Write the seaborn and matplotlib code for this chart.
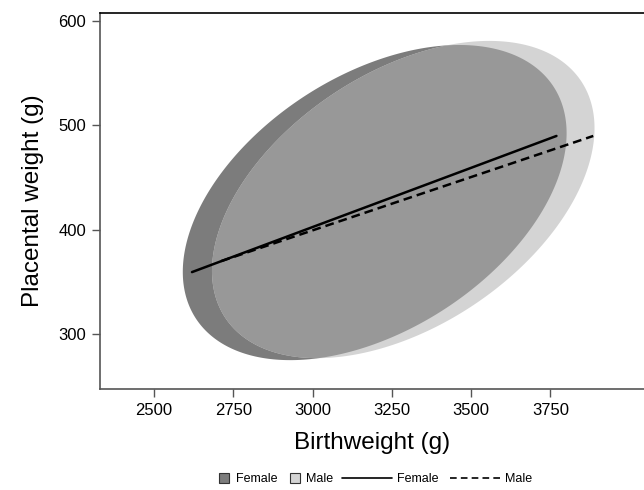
import numpy as np
import pandas as pd
import matplotlib
matplotlib.use("Agg")
import matplotlib.pyplot as plt
import seaborn as sns
from matplotlib.lines import Line2D

# data
sexes = ["Female", "Male"]
fill_colors = ["#7c7c7c", "#d4d4d4"]
overlap_color = "#989898"

# ellipse centre, half extents and correlation (birthweight g, placental weight g)
ell_cx = [3196, 3286]
ell_cy = [426.0, 428.9]
ell_hx = [605, 603]
ell_hy = [150.7, 151.7]
ell_rho = [0.44, 0.45]

# regression line end points
line_x0 = [2620, 2712]
line_y0 = [359.5, 370.0]
line_x1 = [3769, 3885]
line_y1 = [489.7, 489.7]

x_ticks = [2500, 2750, 3000, 3250, 3500, 3750]
y_ticks = [300, 400, 500, 600]

sns.set_theme(style="white")
plt.rcParams["font.family"] = ["Liberation Sans", "DejaVu Sans"]
plt.rcParams["text.color"] = "black"
plt.rcParams["axes.labelcolor"] = "black"
plt.rcParams["xtick.color"] = "black"
plt.rcParams["ytick.color"] = "black"

fig = plt.figure(figsize=(6.44, 4.9), dpi=100)
ax = fig.add_axes([100 / 644, 1 - 389 / 490, 1 - 100 / 644, (389 - 13.3) / 490])

# ellipses
t = np.linspace(0, 2 * np.pi, 400)
polys = []
for i, s in enumerate(sexes):
    ex = ell_cx[i] + ell_hx[i] * np.cos(t)
    ey = ell_cy[i] + ell_hy[i] * (ell_rho[i] * np.cos(t) + np.sqrt(1 - ell_rho[i] ** 2) * np.sin(t))
    polys.append((ex, ey))
    ax.fill(ex, ey, color=fill_colors[i], lw=0, zorder=1)

# overlap region drawn as female ellipse clipped by the male one
male_patch = ax.patches[1]
ov = ax.fill(polys[0][0], polys[0][1], color=overlap_color, lw=0, zorder=2)
ov[0].set_clip_path(male_patch)

# regression lines
lines = pd.DataFrame({
    "Birthweight": line_x0 + line_x1,
    "Placental": line_y0 + line_y1,
    "Sex": sexes + sexes,
})
sns.lineplot(data=lines, x="Birthweight", y="Placental", style="Sex",
             dashes={"Female": "", "Male": (3.5, 2)}, color="black",
             linewidth=1.8, legend=False, ax=ax, zorder=3)

ax.set_xlim(2330, 4045)
ax.set_ylim(247.7, 607)
ax.set_xticks(x_ticks)
ax.set_yticks(y_ticks)
ax.tick_params(axis="both", direction="out", length=6, width=1, color="#555555",
               labelcolor="black", labelsize=12, pad=4, bottom=True, left=True)
ax.set_xlabel("Birthweight (g)", fontsize=17.5, labelpad=10, color="black")
ax.set_ylabel("Placental weight (g)", fontsize=17.5, labelpad=10, color="black")

ax.spines["right"].set_visible(False)
for sp in ["left", "bottom"]:
    ax.spines[sp].set_color("#555555")
    ax.spines[sp].set_linewidth(1.2)
ax.spines["top"].set_color("black")
ax.spines["top"].set_linewidth(1.2)

# legend: squares and lines in two pieces so the line keys can be longer
sq = [Line2D([], [], marker="s", linestyle="none", markersize=7,
             markerfacecolor=fill_colors[i], markeredgecolor="#333333",
             markeredgewidth=0.8) for i in range(2)]
fig.legend(sq, sexes, loc="center right", bbox_to_anchor=(333 / 644, 1 - 479 / 490),
           ncol=2, frameon=False, fontsize=9, handlelength=1.0, handletextpad=0.4,
           columnspacing=0.9, borderpad=0, borderaxespad=0, labelcolor="black")
ln = [Line2D([], [], color="black", lw=1.2),
      Line2D([], [], color="black", lw=1.2, linestyle=(0, (4, 2.5)))]
fig.legend(ln, sexes, loc="center left", bbox_to_anchor=(342 / 644, 1 - 479 / 490),
           ncol=2, frameon=False, fontsize=9, handlelength=4.0, handletextpad=0.4,
           columnspacing=0.9, borderpad=0, borderaxespad=0, labelcolor="black")

fig.savefig("out.png", dpi=100)
